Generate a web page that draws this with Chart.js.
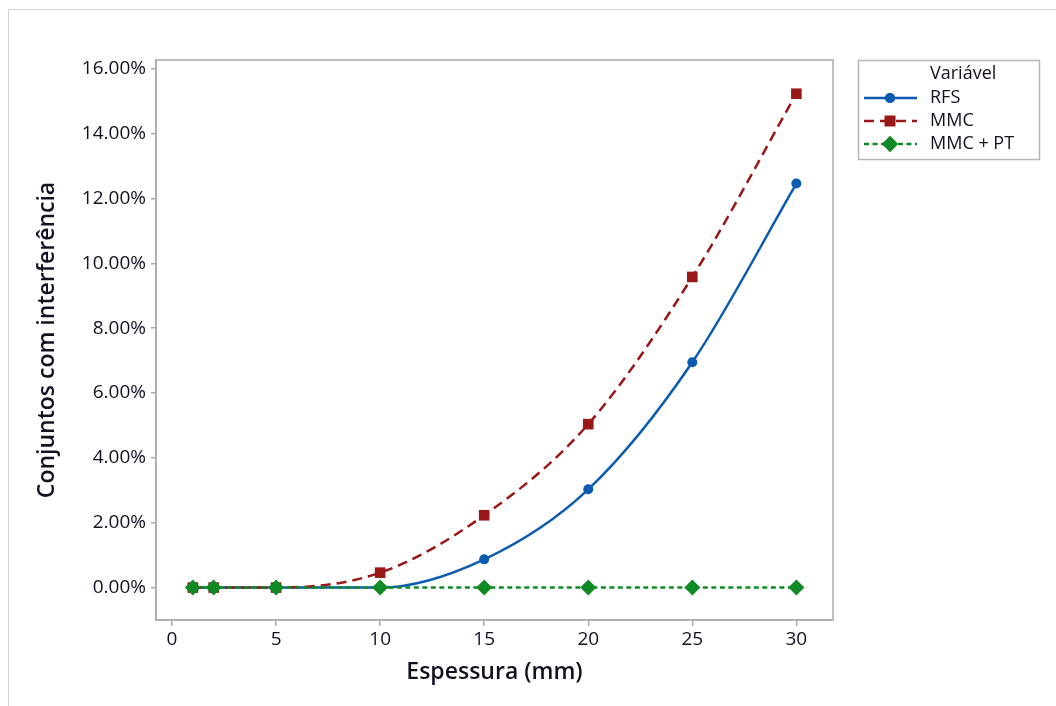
<!DOCTYPE html>
<html>
<head>
<meta charset="utf-8">
<script src="https://cdn.jsdelivr.net/npm/chart.js@4/dist/chart.umd.min.js"></script>
<style>
  html, body { margin: 0; padding: 0; background: #fff; }
  #wrap { width: 1056px; height: 706px; position: relative; }
</style>
</head>
<body>
<div id="wrap"><canvas id="interfChart" width="1056" height="706"></canvas></div>
<script>
// thickness in mm
const espessura = [1, 2, 5, 10, 15, 20, 25, 30];
// % of assemblies with interference
const rfs    = [0, 0, 0, 0, 0.87, 3.03, 6.95, 12.46];
const mmc    = [0, 0, 0, 0.46, 2.23, 5.04, 9.58, 15.23];
const mmcPt  = [0, 0, 0, 0, 0, 0, 0, 0];

const xTicks = [0, 5, 10, 15, 20, 25, 30];
const yTicks = [0, 2, 4, 6, 8, 10, 12, 14, 16];

const textColor = '#111122';
const frameColor = '#ababab';
const FONT = "'Open Sans', 'Noto Sans', sans-serif";

function pts(ys) {
    return espessura.map((x, i) => ({ x: x, y: ys[i] }));
}

// order: lower value is drawn on top
const series = [
    { label: 'RFS', data: rfs, color: '#0b5cb0', dash: [], style: 'circle', radius: 5, order: 2 },
    { label: 'MMC', data: mmc, color: '#9a1717', dash: [10, 6], style: 'rect', radius: 7.5, order: 1 },
    { label: 'MMC + PT', data: mmcPt, color: '#0f8a25', dash: [5, 3.5], style: 'rectRot', radius: 8, order: 0 }
];

// outer page frame + plot box + legend box
const framePlugin = {
    id: 'frames',
    beforeDraw(chart) {
        const ctx = chart.ctx;
        ctx.save();
        ctx.fillStyle = '#fff';
        ctx.fillRect(0, 0, chart.width, chart.height);
        ctx.strokeStyle = '#d2d2d2';
        ctx.lineWidth = 1;
        ctx.beginPath();
        ctx.moveTo(8.5, chart.height);
        ctx.lineTo(8.5, 9.5);
        ctx.lineTo(chart.width, 9.5);
        ctx.stroke();
        ctx.restore();
    },
    afterDraw(chart) {
        const ctx = chart.ctx;
        const a = chart.chartArea;
        ctx.save();
        ctx.strokeStyle = frameColor;
        ctx.lineWidth = 1.5;
        ctx.strokeRect(a.left, a.top, a.right - a.left, a.bottom - a.top);

        // legend
        const lx = 858.5, ly = 60.5, lw = 181, lh = 99;
        ctx.lineWidth = 1.5;
        ctx.strokeStyle = '#b5b5b5';
        ctx.strokeRect(lx, ly, lw, lh);
        ctx.fillStyle = textColor;
        ctx.font = '500 18px ' + FONT;
        ctx.textBaseline = 'middle';
        ctx.textAlign = 'left';
        ctx.fillText('Variável', 930, 74);
        const rows = [98, 121, 144];
        series.forEach((s, i) => {
            const y = rows[i];
            ctx.strokeStyle = s.color;
            ctx.lineWidth = 2.5;
            ctx.setLineDash(s.dash);
            ctx.beginPath();
            ctx.moveTo(864, y);
            ctx.lineTo(917, y);
            ctx.stroke();
            ctx.setLineDash([]);
            ctx.fillStyle = s.color;
            Chart.helpers.drawPoint(ctx, { pointStyle: s.style, radius: s.radius, rotation: 0, borderWidth: 0 }, 890, y);
            ctx.fill();
            ctx.fillStyle = textColor;
            ctx.fillText(s.label, 930, y);
        });
        ctx.restore();
    }
};

const ctx = document.getElementById('interfChart').getContext('2d');
const interfChart = new Chart(ctx, {
    type: 'line',
    data: {
        datasets: series.map(s => ({
            label: s.label,
            data: pts(s.data),
            order: s.order,
            borderColor: s.color,
            backgroundColor: s.color,
            borderWidth: 2.5,
            borderDash: s.dash,
            pointStyle: s.style,
            pointRadius: s.radius,
            pointBorderWidth: 0,
            tension: 0.4,
            cubicInterpolationMode: 'monotone',
            fill: false
        }))
    },
    options: {
        responsive: false,
        animation: false,
        layout: { padding: { left: 0, top: 60, right: 223, bottom: 0 } },
        plugins: {
            legend: { display: false },
            tooltip: { enabled: false }
        },
        scales: {
            x: {
                type: 'linear',
                min: -0.77,
                max: 31.76,
                afterFit(scale) { scale.height = 86; },
                afterBuildTicks(scale) { scale.ticks = xTicks.map(v => ({ value: v })); },
                grid: { drawOnChartArea: false, tickLength: 6, color: frameColor, lineWidth: 1.5 },
                border: { color: frameColor, width: 1.5 },
                ticks: {
                    color: textColor,
                    padding: 2,
                    maxRotation: 0,
                    font: { family: FONT, size: 19, weight: '500' }
                },
                title: {
                    display: true,
                    text: 'Espessura (mm)',
                    color: textColor,
                    font: { family: FONT, size: 23, weight: '600' },
                    padding: { top: 0, bottom: 20 }
                }
            },
            y: {
                type: 'linear',
                min: -1.0,
                max: 16.27,
                afterFit(scale) { scale.width = 156; },
                afterBuildTicks(scale) { scale.ticks = yTicks.map(v => ({ value: v })); },
                grid: { drawOnChartArea: false, tickLength: 5, color: frameColor, lineWidth: 1.5 },
                border: { color: frameColor, width: 1.5 },
                ticks: {
                    color: textColor,
                    padding: 5,
                    font: { family: FONT, size: 19, weight: '500' },
                    callback: v => v.toFixed(2) + '%'
                },
                title: {
                    display: true,
                    text: 'Conjuntos com interferência',
                    color: textColor,
                    font: { family: FONT, size: 23, weight: '600' },
                    padding: { top: 34, bottom: 0 }
                }
            }
        }
    },
    plugins: [framePlugin]
});
</script>
</body>
</html>
